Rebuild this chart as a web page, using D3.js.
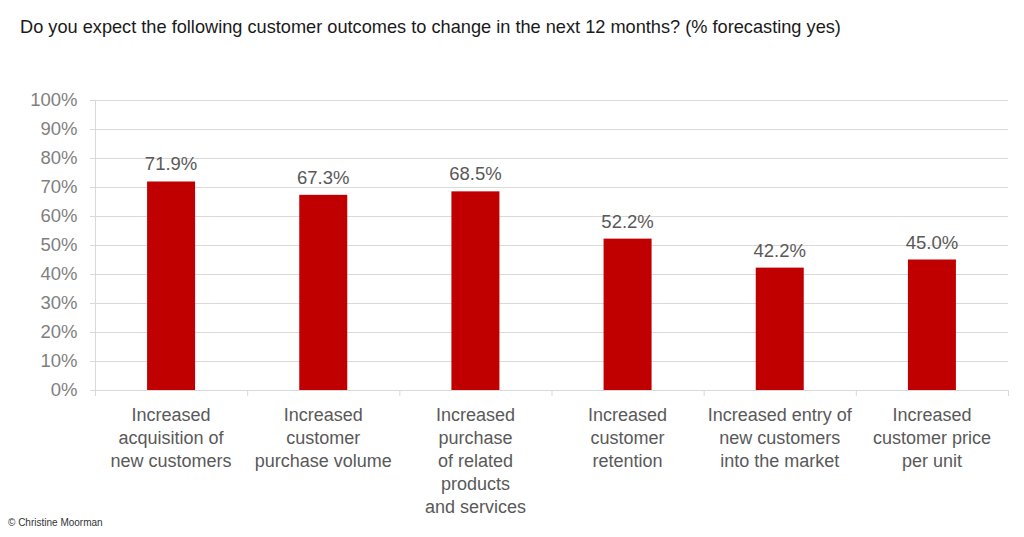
<!DOCTYPE html>
<html>
<head>
<meta charset="utf-8">
<script src="https://cdn.jsdelivr.net/npm/d3@7"></script>
<style>
  html,body{margin:0;padding:0;background:#fff;}
  svg{display:block;font-family:"Liberation Sans",Arial,sans-serif;}
</style>
</head>
<body>
<svg id="chart" width="1024" height="537"></svg>
<script>
'use strict';

/* data */
const CATEGORIES = [
  ['Increased', 'acquisition of', 'new customers'],
  ['Increased', 'customer', 'purchase volume'],
  ['Increased', 'purchase', 'of related', 'products', 'and services'],
  ['Increased', 'customer', 'retention'],
  ['Increased entry of', 'new customers', 'into the market'],
  ['Increased', 'customer price', 'per unit']
];
const VALUES = [71.9, 67.3, 68.5, 52.2, 42.2, 45.0];
const Y_TICKS = [0, 10, 20, 30, 40, 50, 60, 70, 80, 90, 100];

const TITLE = 'Do you expect the following customer outcomes to change in the next 12 months? (% forecasting yes)';
const CREDIT = '\u00A9 Christine Moorman';

/* layout */
const svg = d3.select('#chart');
const plotL = 95, plotR = 1008, plotT = 100, plotB = 390;

const x = d3.scaleBand()
  .domain(d3.range(VALUES.length))
  .range([plotL, plotR])
  .paddingInner(0)
  .paddingOuter(0);

const y = d3.scaleLinear().domain([0, 100]).range([plotB, plotT]);

const barW = 48;

/* title */
svg.append('text')
  .attr('x', 20).attr('y', 33)
  .attr('font-size', 18.2)
  .attr('fill', '#1a1a1a')
  .text(TITLE);

/* gridlines */
svg.append('g')
  .selectAll('line')
  .data(Y_TICKS.filter(d => d > 0))
  .join('line')
  .attr('x1', plotL - 5).attr('x2', plotR)
  .attr('y1', d => y(d) + 0.5).attr('y2', d => y(d) + 0.5)
  .attr('stroke', '#d9d9d9').attr('stroke-width', 1);

/* y axis */
const yAxis = svg.append('g')
  .attr('transform', `translate(${plotL + 0.5},0)`)
  .call(d3.axisLeft(y).tickValues(Y_TICKS).tickFormat(d => d + '%').tickSize(5).tickPadding(13));
yAxis.select('.domain').attr('stroke', '#d9d9d9').attr('d', `M-5,${plotB + 0.5}H0V${plotT}`);
yAxis.selectAll('.tick line').attr('stroke', '#d9d9d9');
yAxis.selectAll('.tick text')
  .attr('font-size', 18.5).attr('fill', '#7f7f7f')
  .attr('font-family', '"Liberation Sans",Arial,sans-serif');

/* x axis line + tick marks at band boundaries */
svg.append('line')
  .attr('x1', plotL).attr('x2', plotR)
  .attr('y1', plotB + 0.5).attr('y2', plotB + 0.5)
  .attr('stroke', '#d9d9d9');

svg.append('g')
  .selectAll('line')
  .data(d3.range(VALUES.length + 1))
  .join('line')
  .attr('x1', i => (i < VALUES.length ? x(i) : plotR) + 0.5)
  .attr('x2', i => (i < VALUES.length ? x(i) : plotR) + 0.5)
  .attr('y1', plotB).attr('y2', plotB + 6)
  .attr('stroke', '#d9d9d9');

/* bars */
svg.append('g')
  .selectAll('rect')
  .data(VALUES)
  .join('rect')
  .attr('x', (d, i) => x(i) + x.bandwidth() / 2 - barW / 2)
  .attr('y', d => y(d))
  .attr('width', barW)
  .attr('height', d => plotB - y(d))
  .attr('fill', '#c00000');

/* value labels */
svg.append('g')
  .selectAll('text')
  .data(VALUES)
  .join('text')
  .attr('x', (d, i) => x(i) + x.bandwidth() / 2)
  .attr('y', d => y(d) - 11)
  .attr('text-anchor', 'middle')
  .attr('font-size', 18.5)
  .attr('fill', '#595959')
  .text(d => d.toFixed(1) + '%');

/* category labels */
const cat = svg.append('g')
  .selectAll('text')
  .data(CATEGORIES)
  .join('text')
  .attr('x', (d, i) => x(i) + x.bandwidth() / 2)
  .attr('y', 421)
  .attr('text-anchor', 'middle')
  .attr('font-size', 18)
  .attr('fill', '#595959');

cat.each(function(lines, i){
  d3.select(this).selectAll('tspan')
    .data(lines)
    .join('tspan')
    .attr('x', x(i) + x.bandwidth() / 2)
    .attr('dy', (d, j) => j === 0 ? 0 : 23)
    .text(d => d);
});

/* credit */
svg.append('text')
  .attr('x', 8).attr('y', 526)
  .attr('font-size', 10)
  .attr('fill', '#333')
  .text(CREDIT);
</script>
</body>
</html>
